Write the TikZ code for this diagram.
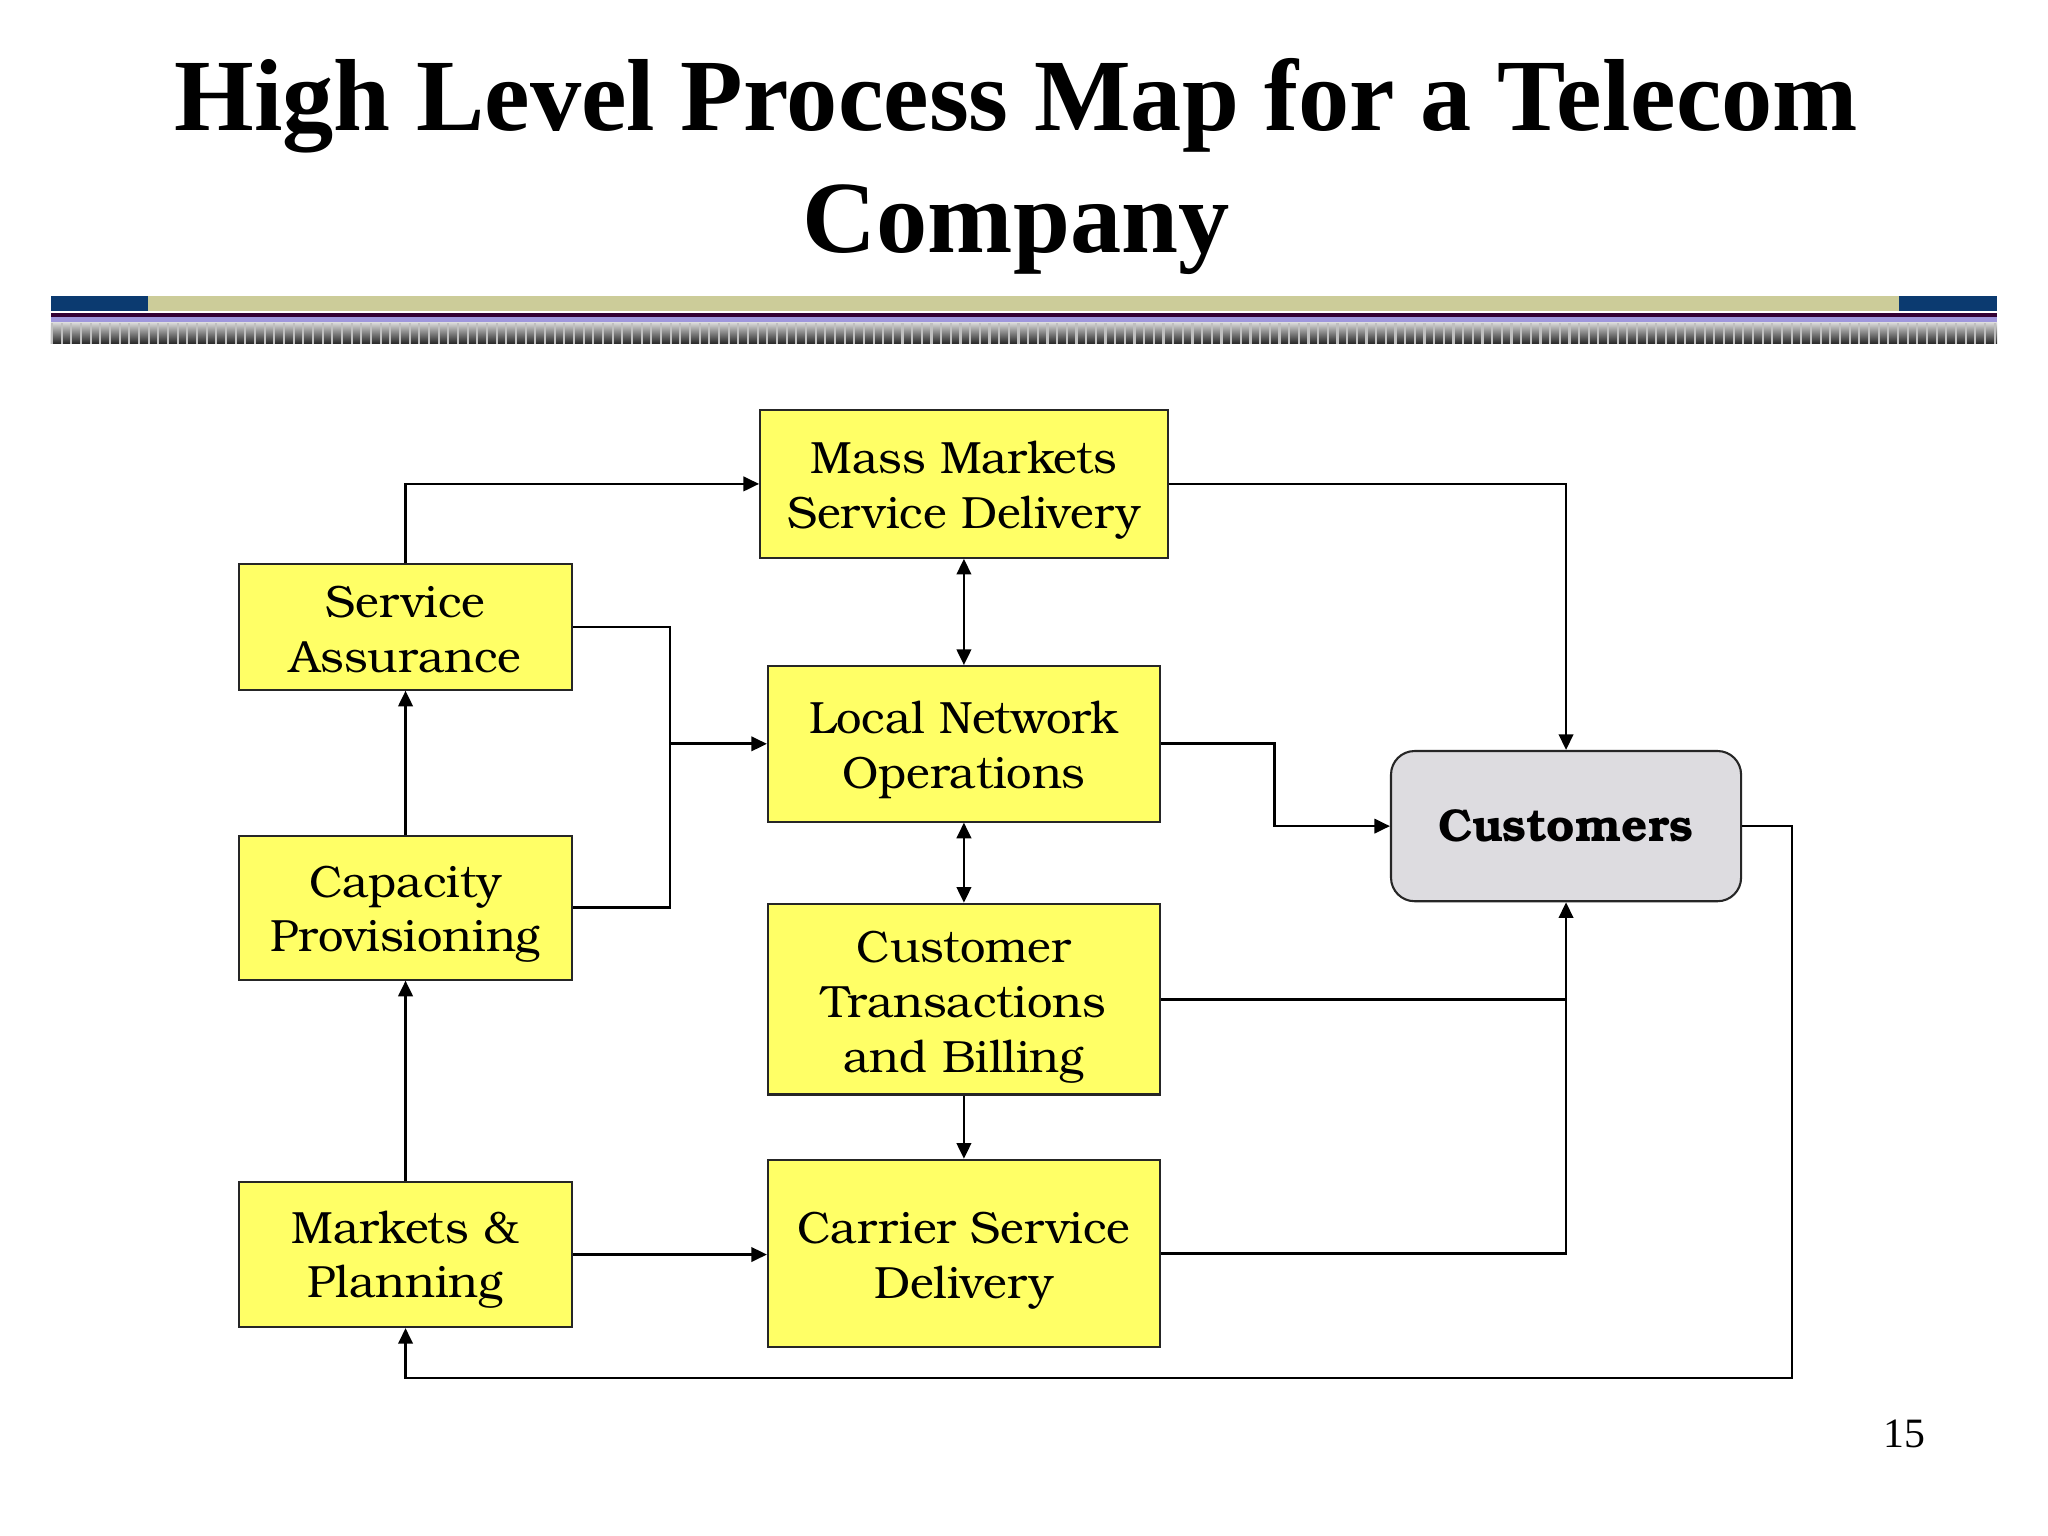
\documentclass[tikz,border=0pt]{standalone}
\usepackage{fontspec}
\setmainfont{Liberation Serif}
\newfontfamily\boxfont{texgyrebonum}[Extension=.otf, UprightFont=*-regular, BoldFont=*-bold]
\usetikzlibrary{arrows.meta,calc}
\definecolor{navy}{HTML}{0B3A70}
\definecolor{khaki}{HTML}{CCCC99}
\definecolor{boxyellow}{HTML}{FFFF66}
\definecolor{custgray}{HTML}{DDDCE0}
\definecolor{darkpurple}{HTML}{330033}
\definecolor{lavender}{HTML}{9F97DD}
\tikzset{
  procbox/.style={draw=black!85, line width=0.8pt, fill=boxyellow, inner sep=0pt},
  boxtext/.style={align=center, inner sep=0pt, font=\boxfont\fontsize{17.3pt}{21pt}\selectfont},
  custbox/.style={draw=black!85, line width=0.8pt, fill=custgray, rounded corners=9pt, align=center, inner sep=0pt,
    font=\boxfont\bfseries\fontsize{17.6pt}{21pt}\selectfont},
  conn/.style={line width=1.05pt, draw=black},
  arr/.style={conn, -{Triangle[length=6pt,width=5.5pt]}},
  darr/.style={conn, {Triangle[length=6pt,width=5.5pt]}-{Triangle[length=6pt,width=5.5pt]}},
  titlefont/.style={font=\bfseries\fontsize{39.2pt}{46.5pt}\selectfont, inner sep=0pt}
}
\begin{document}
\begin{tikzpicture}[x=0.5pt,y=-0.5pt]
\useasboundingbox[fill=white] (0,0) rectangle (1568,1176);
% title
\node[titlefont, anchor=base] (t1) at (778,100) {High Level Process Map for a Telecom};
\node[titlefont, anchor=base] (t2) at (778,193) {Company};
% header bars
\fill[navy] (39,227) rectangle (113,238);
\fill[khaki] (113,227) rectangle (1454,238);
\fill[navy] (1454,227) rectangle (1529,238);
\fill[darkpurple] (39,240) rectangle (1529,242.5);
\fill[lavender] (39,242.5) rectangle (1529,247);
\shade[top color=black!15, bottom color=black!85] (39,247) rectangle (1529,263);
\foreach \i in {0,...,201} {
  \fill[black!25] (39+7.4*\i,247) rectangle (39+7.4*\i+1.6,263);
}
% boxes
\node[procbox, minimum width=156pt, minimum height=56.5pt] (MM) at (738,370.5) {};
\node[procbox, minimum width=150pt, minimum height=59.5pt] (LN) at (738,569.5) {};
\node[procbox, minimum width=150pt, minimum height=73pt] (CTB) at (738,765) {};
\node[procbox, minimum width=150pt, minimum height=71.5pt] (CSD) at (738,959.5) {};
\node[procbox, minimum width=127.5pt, minimum height=48pt] (SA) at (310.5,480) {};
\node[procbox, minimum width=127.5pt, minimum height=55pt] (CP) at (310.5,695) {};
\node[procbox, minimum width=127.5pt, minimum height=55.5pt] (MP) at (310.5,960.5) {};
\node[custbox, minimum width=134pt, minimum height=57.5pt] (CU) at (1199,632.5) {Customers};
% box texts
\node[boxtext] (MMt) at ($(MM.center)+(0,5)$) {Mass Markets\\Service Delivery};
\node[boxtext] (LNt) at ($(LN.center)+(0,5)$) {Local Network\\Operations};
\node[boxtext] (CTBt) at ($(CTB.center)+(0,6)$) {Customer\\Transactions\\and Billing};
\node[boxtext] (CSDt) at ($(CSD.center)+(0,6)$) {Carrier Service\\Delivery};
\node[boxtext] (SAt) at ($(SA.center)+(0,2)$) {Service\\Assurance};
\node[boxtext] (CPt) at ($(CP.center)+(0,5)$) {Capacity\\Provisioning};
\node[boxtext] (MPt) at ($(MP.center)+(0,4)$) {Markets \&\\Planning};
% connectors
\coordinate (J) at (513,569.5);
\coordinate (K) at (976,569.5);
\coordinate (R) at (1372,1055);
\draw[arr] (SA.north) |- (MM.west);
\draw[conn] (SA.east) -| (J);
\draw[conn] (CP.east) -| (J);
\draw[arr] (J) -- (LN.west);
\draw[arr] (CP.north) -- (SA.south);
\draw[arr] (MP.north) -- (CP.south);
\draw[arr] (MP.east) -- (MP.east -| CSD.west);
\draw[darr] (MM.south) -- (LN.north);
\draw[darr] (LN.south) -- (CTB.north);
\draw[arr] (CTB.south) -- (CSD.north);
\draw[arr] (MM.east) -| (CU.north);
\draw[arr] (LN.east) -- (K) |- (CU.west);
\draw[conn] (CTB.east) -- (CTB.east -| CU.south);
\draw[arr] (CSD.east) -| (CU.south);
\draw[arr] (CU.east) -| (R) -| (MP.south);
% page number
\node[anchor=base, font=\fontsize{16pt}{18pt}\selectfont, inner sep=0pt] (pg) at (1458,1108) {15};
\end{tikzpicture}
\end{document}
